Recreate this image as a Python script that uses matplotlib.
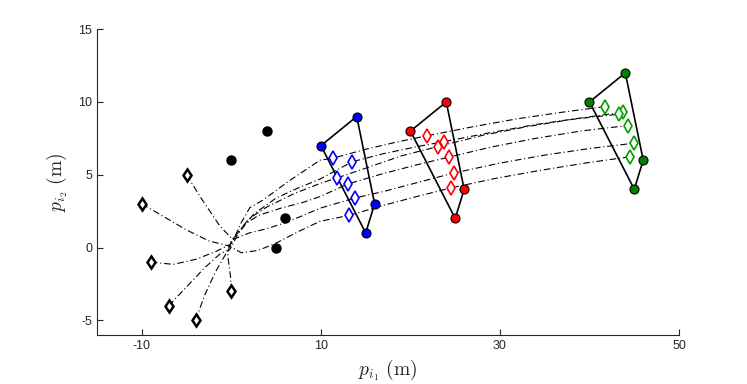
import matplotlib
matplotlib.use("Agg")
import matplotlib.pyplot as plt

# initial agent positions (black diamonds)
start_x = [-9, -7, -4, 0, -5, -10]
start_y = [-1, -4, -5, -3, 5, 3]

# formation vertices (black, blue, red, green)
form_black_x = [0, 4, 6, 5]
form_black_y = [6, 8, 2, 0]
form_blue_x = [10, 14, 16, 15]
form_blue_y = [7, 9, 3, 1]
form_red_x = [20, 24, 26, 25]
form_red_y = [8, 10, 4, 2]
form_green_x = [40, 44, 46, 45]
form_green_y = [10, 12, 6, 4]

# agent positions at intermediate times
blue_x = [11.37, 13.49, 11.75, 12.98, 13.79, 13.16]
blue_y = [6.14, 5.89, 4.77, 4.36, 3.40, 2.21]
red_x = [21.8, 23.77, 23.1, 24.3, 24.85, 24.49]
red_y = [7.67, 7.28, 6.94, 6.21, 5.12, 4.09]
green_x = [41.73, 43.7, 43.3, 44.26, 45.0, 44.48]
green_y = [9.68, 9.29, 9.16, 8.38, 7.17, 6.23]

# trajectories
traj_x = [
    [-9, -6.5, -3.9, -1.66, -0.17, 0.3, 1.0, 2.06, 3.5, 6.5, 9.9, 11.37, 15.0, 18.5, 21.8, 27.0, 32.0, 37.0, 41.73],
    [-7, -5, -3, -1.2, -0.17, 0.8, 2.5, 5.0, 7.5, 9.9, 13.49, 17.0, 20.5, 23.77, 29.0, 34.0, 39.0, 43.7],
    [-4, -3, -1.8, -0.54, 0.3, 2.0, 4.0, 7.0, 9.9, 11.75, 15.0, 19.0, 23.1, 28.0, 33.0, 38.0, 43.3],
    [0, -0.1, -0.4, -0.2, 1.5, 3.0, 5.5, 8.0, 9.9, 12.98, 16.5, 20.5, 24.3, 29.0, 34.0, 39.0, 44.26],
    [-5, -3.5, -1.27, 0.16, 2.0, 4.0, 6.0, 8.0, 9.9, 13.79, 17.0, 21.0, 24.85, 30.0, 35.0, 40.0, 45.0],
    [-10, -7.5, -5.0, -2.5, -0.17, 1.1, 3.0, 5.05, 7.5, 9.9, 13.16, 17.0, 21.0, 24.49, 29.5, 34.5, 39.5, 44.48],
]
traj_y = [
    [-1, -1.16, -0.8, -0.25, 0.2, 0.6, 1.6, 2.74, 3.25, 4.6, 6.0, 6.14, 6.75, 7.25, 7.67, 8.3, 8.85, 9.3, 9.68],
    [-4, -2.7, -1.4, -0.4, -0.14, 1.0, 2.3, 3.4, 4.1, 4.7, 5.89, 6.45, 6.9, 7.28, 7.9, 8.45, 8.9, 9.29],
    [-5, -3.3, -1.7, -0.35, 0.7, 2.0, 2.8, 3.7, 4.4, 4.77, 5.45, 6.3, 6.94, 7.7, 8.3, 8.8, 9.16],
    [-3, -2.0, -0.6, 0.3, 1.6, 2.2, 2.7, 3.1, 3.5, 4.36, 5.0, 5.65, 6.21, 6.9, 7.5, 8.0, 8.38],
    [5, 3.5, 1.46, 0.55, 1.0, 1.3, 1.7, 2.2, 2.7, 3.40, 3.85, 4.5, 5.12, 5.8, 6.35, 6.8, 7.17],
    [3, 2.1, 1.2, 0.45, 0.09, -0.36, -0.2, 0.32, 1.1, 1.8, 2.21, 2.9, 3.55, 4.09, 4.75, 5.3, 5.8, 6.23],
]

xticks = [-10, 10, 30, 50]
yticks = [-5, 0, 5, 10, 15]

plt.rcParams['mathtext.fontset'] = 'cm'
plt.rcParams['axes.unicode_minus'] = False
plt.rcParams['font.family'] = ['Liberation Sans', 'DejaVu Sans']

fig = plt.figure(figsize=(7.47, 3.84), dpi=100)
ax = fig.add_axes([0.130, 0.128, 0.779, 0.796])

for tx, ty in zip(traj_x, traj_y):
    ax.plot(tx, ty, color='black', linestyle='-.', linewidth=0.8, dashes=(6, 2.5, 1, 2.5), zorder=2)

for fx, fy, col in [(form_blue_x, form_blue_y, 'blue'), (form_red_x, form_red_y, 'red'),
                    (form_green_x, form_green_y, '#008000')]:
    ax.plot(fx + fx[:1], fy + fy[:1], color='black', linewidth=1.2, zorder=3)
    ax.plot(fx, fy, linestyle='none', marker='o', markersize=6.5, markerfacecolor=col,
            markeredgecolor='black', markeredgewidth=0.8, zorder=5)

ax.plot(form_black_x, form_black_y, linestyle='none', marker='o', markersize=6.5,
        markerfacecolor='black', markeredgecolor='black', zorder=5)

ax.plot(start_x, start_y, linestyle='none', marker='d', markersize=6.5, markerfacecolor='white',
        markeredgecolor='black', markeredgewidth=1.8, zorder=4)
ax.plot(blue_x, blue_y, linestyle='none', marker='d', markersize=7, markerfacecolor='white',
        markeredgecolor='blue', markeredgewidth=1.2, zorder=4)
ax.plot(red_x, red_y, linestyle='none', marker='d', markersize=7, markerfacecolor='white',
        markeredgecolor='red', markeredgewidth=1.2, zorder=4)
ax.plot(green_x, green_y, linestyle='none', marker='d', markersize=7, markerfacecolor='white',
        markeredgecolor='#00a000', markeredgewidth=1.2, zorder=4)

ax.set_xlim(-15, 50)
ax.set_ylim(-6, 15)
ax.set_xticks(xticks)
ax.set_yticks(yticks)
ax.spines['top'].set_visible(False)
ax.spines['right'].set_visible(False)
for s in ['left', 'bottom']:
    ax.spines[s].set_color('#262626')
    ax.spines[s].set_linewidth(0.8)
ax.tick_params(direction='in', length=4.5, width=0.8, colors='#262626', labelsize=9)
ax.set_xlabel(r'$p_{i_1}\ \mathrm{(m)}$', fontsize=14, color='#262626', labelpad=4)
ax.set_ylabel(r'$p_{i_2}\ \mathrm{(m)}$', fontsize=14, color='#262626', labelpad=6)

fig.savefig('out.png', dpi=100)
